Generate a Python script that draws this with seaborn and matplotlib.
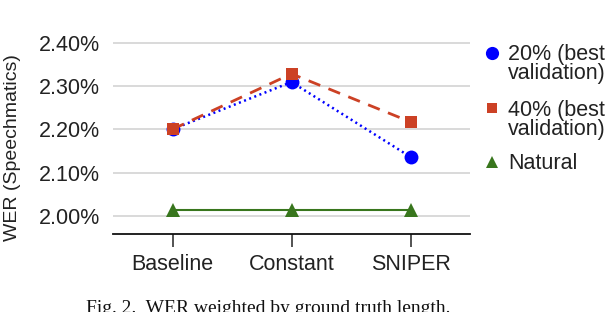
import matplotlib
matplotlib.use("Agg")
import matplotlib.pyplot as plt
import seaborn as sns
import pandas as pd
from matplotlib.lines import Line2D

categories = ["Baseline", "Constant", "SNIPER"]
series_names = ["20% (best\nvalidation)", "40% (best\nvalidation)", "Natural"]
wer_20 = [2.200, 2.309, 2.136]
wer_40 = [2.200, 2.328, 2.217]
wer_natural = [2.014, 2.014, 2.014]
y_ticks = [2.00, 2.10, 2.20, 2.30, 2.40]
y_tick_labels = ["2.00%", "2.10%", "2.20%", "2.30%", "2.40%"]

colors = {series_names[0]: "#0000ff", series_names[1]: "#cc4125", series_names[2]: "#38761d"}
markers = {series_names[0]: "o", series_names[1]: "s", series_names[2]: "^"}
dashes = {series_names[0]: (0.8, 1.4), series_names[1]: (4.5, 3.2), series_names[2]: ""}
msizes = {series_names[0]: 10, series_names[1]: 9, series_names[2]: 10}
lws = {series_names[0]: 1.8, series_names[1]: 2.0, series_names[2]: 1.5}

rows = []
for name, vals in zip(series_names, [wer_20, wer_40, wer_natural]):
    for c, v in zip(categories, vals):
        rows.append({"Method": c, "WER": v, "Series": name})
df = pd.DataFrame(rows)

sns.set_theme(style="white")
plt.rcParams["font.family"] = ["Liberation Sans", "DejaVu Sans"]

W, H = 608, 312
fig = plt.figure(figsize=(W / 100, H / 100), dpi=100)
ax = fig.add_axes([113 / W, 1 - 234 / H, (470 - 113) / W, (234 - 34) / H])

for name in [series_names[2], series_names[0], series_names[1]]:
    sub = df[df["Series"] == name]
    sns.lineplot(data=sub, x="Method", y="WER", ax=ax, color=colors[name],
                 marker=markers[name], markersize=msizes[name], markeredgewidth=0,
                 linewidth=lws[name], dashes=False, sort=False, legend=False)
    line = ax.lines[-1]
    if dashes[name]:
        line.set_dashes(dashes[name])

ax.set_xlim(-0.5, 2.5)
ax.set_ylim(1.958, 2.42)
ax.set_yticks(y_ticks)
ax.set_yticklabels(y_tick_labels)
ax.yaxis.grid(True, color="#d0d0d0", linewidth=1.1)
ax.set_axisbelow(True)
for s in ["left", "right", "top"]:
    ax.spines[s].set_visible(False)
ax.spines["bottom"].set_color("#111111")
ax.spines["bottom"].set_linewidth(1.3)
ax.tick_params(axis="y", length=0, pad=9.5, labelsize=15.5, labelcolor="#222222")
ax.tick_params(axis="x", length=9.5, width=1.3, direction="out", bottom=True,
               color="#444444", pad=5, labelsize=15.5, labelcolor="#222222")
ax.set_xlabel("")
ax.set_ylabel("WER (Speechmatics)", fontsize=14, color="#222222")
ax.yaxis.set_label_coords(-0.258, 0.43)

# legend (markers aligned to first line of each label, as in the reference)
leg_marker_x = 492 / W
leg_text_x = 508 / W
entry_baselines = [60, 116, 169]
marker_centers = [53, 108, 161.5]
leg_msize = {series_names[0]: 9.5, series_names[1]: 7, series_names[2]: 8.5}
for name, base, my in zip(series_names, entry_baselines, marker_centers):
    fig.add_artist(Line2D([leg_marker_x], [1 - my / H], transform=fig.transFigure,
                          linestyle="none", marker=markers[name], color=colors[name],
                          markersize=leg_msize[name], markeredgewidth=0))
    for i, part in enumerate(name.split("\n")):
        fig.text(leg_text_x, 1 - (base + 19 * i) / H, part, ha="left", va="baseline",
                 fontsize=15.5, color="#222222")

fig.text(268 / W, 1 - 300 / H, "Fig. 2.  WER weighted by ground truth length.",
         ha="center", va="top", fontsize=14, family=["Liberation Serif", "DejaVu Serif"],
         color="#111111")

fig.savefig("out.png", dpi=100)
